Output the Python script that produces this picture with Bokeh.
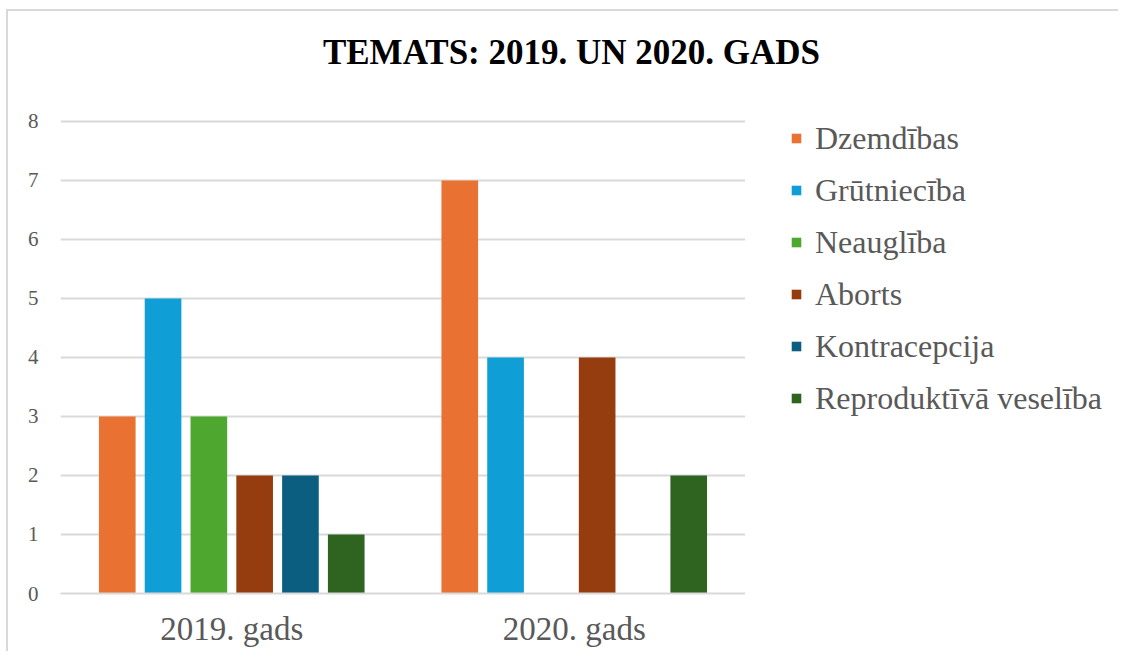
from bokeh.plotting import figure
from bokeh.models import FactorRange, Range1d, FixedTicker, Legend, LegendItem, ColumnDataSource, Div
from bokeh.layouts import row, column
from bokeh.transform import dodge
from bokeh.embed import file_html
from bokeh.resources import INLINE

categories = ["2019. gads", "2020. gads"]
series_names = ["Dzemdības", "Grūtniecība", "Neauglība", "Aborts", "Kontracepcija", "Reproduktīvā veselība"]
dzemdibas = [3, 7]
grutnieciba = [5, 4]
neaugliba = [3, 0]
aborts = [2, 4]
kontracepcija = [2, 0]
reproduktiva = [1, 2]
colors = ["#E97132", "#0F9ED5", "#4EA72E", "#963D10", "#0C5E80", "#2F6320"]
y_ticks = [0, 1, 2, 3, 4, 5, 6, 7, 8]
title_text = "TEMATS: 2019. UN 2020. GADS"

values = [dzemdibas, grutnieciba, neaugliba, aborts, kontracepcija, reproduktiva]
keys = ["s%d" % i for i in range(len(series_names))]
data = {"cat": categories}
for k, v in zip(keys, values):
    data[k] = v
src = ColumnDataSource(data)

FONT = "Liberation Serif"
slot = 0.1337
bw = 0.107

# main chart
p = figure(x_range=FactorRange(*categories, range_padding=0), y_range=Range1d(0, 8.05),
           width=737, height=543, output_backend="svg", toolbar_location=None,
           min_border_left=52, min_border_top=10, min_border_bottom=58, min_border_right=0,
           margin=0)
p.outline_line_color = None
p.background_fill_color = "white"
p.border_fill_color = "white"

for i, (k, c) in enumerate(zip(keys, colors)):
    off = (i - 2.5) * slot
    p.vbar(x=dodge("cat", off, range=p.x_range), top=k, width=bw, source=src,
           fill_color=c, line_color=None)

p.xgrid.grid_line_color = None
p.ygrid.grid_line_color = "#d9d9d9"
p.ygrid.grid_line_width = 2
p.yaxis.ticker = FixedTicker(ticks=y_ticks)
p.yaxis.axis_line_color = None
p.yaxis.major_tick_line_color = None
p.yaxis.minor_tick_line_color = None
p.yaxis.major_label_text_font = FONT
p.yaxis.major_label_text_font_size = "21px"
p.yaxis.major_label_text_color = "#595959"
p.yaxis.major_label_standoff = 16

p.xaxis.axis_line_color = "#d9d9d9"
p.xaxis.axis_line_width = 2
p.xaxis.major_tick_line_color = None
p.xaxis.minor_tick_line_color = None
p.xaxis.major_label_text_font = FONT
p.xaxis.major_label_text_font_size = "33px"
p.xaxis.major_label_text_color = "#595959"
p.xaxis.major_label_standoff = 11

# legend panel: zero-width bars (invisible), only their legend entries show
p2 = figure(x_range=FactorRange(*categories, range_padding=0), y_range=Range1d(0, 8.05),
            width=373, height=543, output_backend="svg", toolbar_location=None,
            x_axis_type=None, y_axis_type=None, title=None,
            min_border_left=45, min_border_top=4, min_border_right=0, min_border_bottom=0,
            margin=0)
p2.outline_line_color = None
p2.xgrid.grid_line_color = None
p2.ygrid.grid_line_color = None
items = []
for i, (k, name, c) in enumerate(zip(keys, series_names, colors)):
    off = (i - 2.5) * slot
    r = p2.vbar(x=dodge("cat", off, range=p2.x_range), top=k, width=0, source=src,
                fill_color=c, line_color=None)
    items.append(LegendItem(label=name, renderers=[r]))

legend = Legend(items=items, location="top_left", orientation="vertical")
legend.border_line_color = None
legend.background_fill_alpha = 0
legend.glyph_width = 12
legend.glyph_height = 12
legend.label_standoff = 13
legend.label_text_font = FONT
legend.label_text_font_size = "32px"
legend.label_text_color = "#595959"
legend.label_height = 40
legend.spacing = 12
legend.padding = 0
legend.margin = 0
p2.add_layout(legend, "center")

title = Div(text=title_text, width=1110, height=97, margin=0,
            styles={"font-family": "'Liberation Serif', serif", "font-weight": "bold",
                    "font-size": "35px", "color": "black", "text-align": "center",
                    "padding-top": "22px", "padding-left": "17px", "line-height": "40px",
                    "box-sizing": "border-box"})

layout = column(title, row(p, p2, margin=0), margin=(9, 0, 0, 6),
                styles={"border-top": "2px solid #d9d9d9", "border-left": "2px solid #d9d9d9",
                        "background": "white"})

open("out.html", "w").write(file_html(layout, INLINE))
